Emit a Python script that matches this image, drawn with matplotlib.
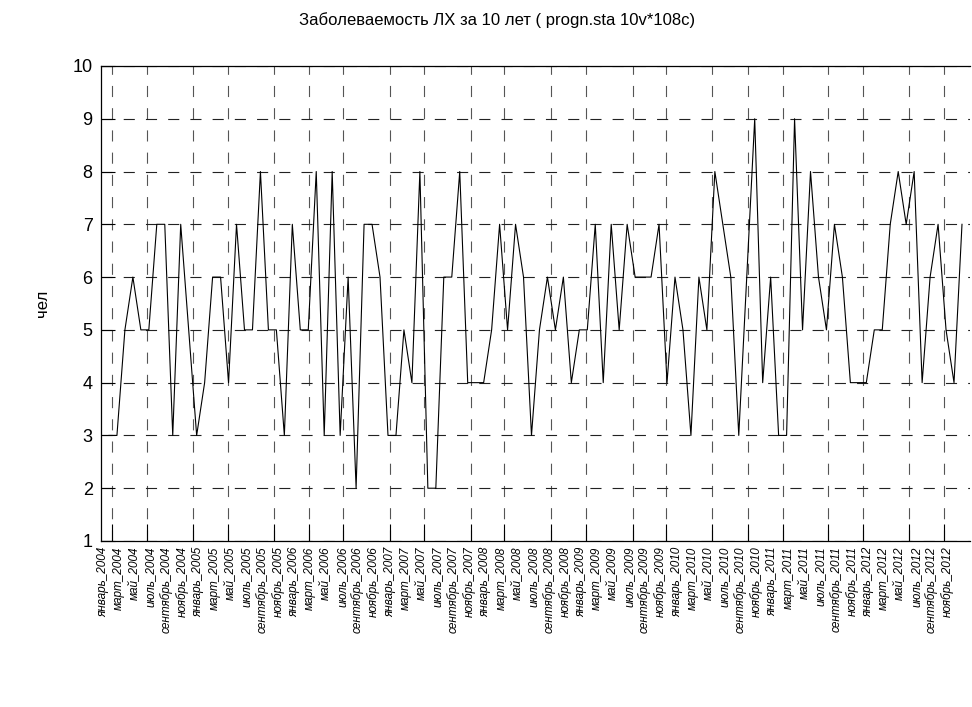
import matplotlib
matplotlib.use("Agg")
import matplotlib.pyplot as plt
import numpy as np

# monthly cases, Jan 2004 .. Dec 2012 (108 cases)
cases = [3, 3, 5, 6, 5, 5, 7, 7, 3, 7, 5, 3,
         4, 6, 6, 4, 7, 5, 5, 8, 5, 5, 3, 7,
         5, 5, 8, 3, 8, 3, 6, 2, 7, 7, 6, 3,
         3, 5, 4, 8, 2, 2, 6, 6, 8, 4, 4, 4,
         5, 7, 5, 7, 6, 3, 5, 6, 5, 6, 4, 5,
         5, 7, 4, 7, 5, 7, 6, 6, 6, 7, 4, 6,
         5, 3, 6, 5, 8, 7, 6, 3, 6, 9, 4, 6,
         3, 3, 9, 5, 8, 6, 5, 7, 6, 4, 4, 4,
         5, 5, 7, 8, 7, 8, 4, 6, 7, 5, 4, 7]

months = ["январь", "март", "май", "июль", "сентябрь", "ноябрь"]
years = list(range(2004, 2013))
tick_labels = [f"{m}_{y}" for y in years for m in months]

# positions of statistica's vertical grid lines (case units)
vgrid = [1.4, 5.8, 11.5, 15.9, 21.7, 26.1, 30.3, 36.2, 40.5, 46.4, 50.6,
         56.5, 60.8, 66.7, 70.9, 76.7, 81.1, 85.5, 91.2, 95.6, 101.4, 105.8]

x = np.arange(1, len(cases) + 1)

fig = plt.figure(figsize=(9.72, 7.07), dpi=100)
ax = fig.add_axes([0.1039, 0.2348, 0.894, 0.6719])

ax.plot(x, cases, color="black", lw=0.8)

ax.set_xlim(0, 109)
ax.set_ylim(1, 10)

ax.set_yticks(range(1, 11))
ax.set_yticklabels([str(v) for v in range(1, 11)], fontsize=13, family="Liberation Sans")
ax.tick_params(axis="y", direction="in", length=10, width=0.8, pad=6)

ax.set_xticks(x[::2])
ax.set_xticklabels(tick_labels, rotation=90, fontsize=8.5, style="italic",
                   ha="right", va="top", family="Liberation Sans")
ax.tick_params(axis="x", which="major", length=0, pad=4)
ax.set_xticks(vgrid, minor=True)
ax.tick_params(axis="x", which="minor", direction="in", length=12, width=0.8)

ax.xaxis.grid(True, which="minor", color="#555555", lw=0.8, linestyle=(0, (10, 10)))
ax.yaxis.grid(True, which="major", color="#222222", lw=0.8, linestyle=(0, (10, 10)))

ax.spines["right"].set_visible(False)
for s in ["left", "bottom", "top"]:
    ax.spines[s].set_linewidth(0.9)

ax.set_ylabel("чел", fontsize=12, family="Liberation Sans", labelpad=16)
fig.text(0.511, 0.972, "Заболеваемость ЛХ за 10 лет ( progn.sta 10v*108c)",
         ha="center", va="center", fontsize=12, family="Liberation Sans")

fig.savefig("out.png", dpi=100)
